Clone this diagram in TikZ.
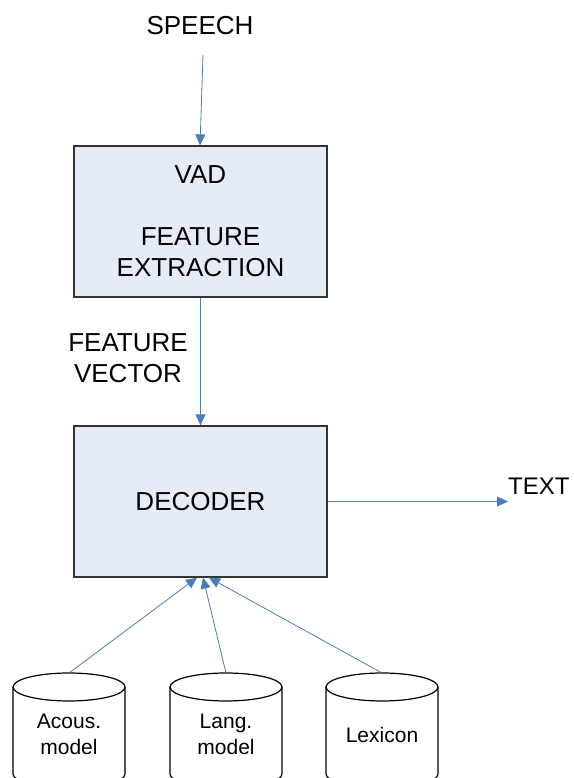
\documentclass[tikz,border=0pt]{standalone}
\usepackage{fontspec}
\setmainfont{Liberation Sans}
\usetikzlibrary{arrows.meta}
\definecolor{linkblue}{RGB}{74,126,187}
\definecolor{boxfill}{RGB}{230,236,247}

\begin{document}
\begin{tikzpicture}[x=1pt,y=1pt,
  block/.style={draw=black!80,line width=1.2pt,fill=boxfill,minimum width=253pt,minimum height=151pt,inner sep=0pt,align=center,font=\fontsize{26}{31}\selectfont},
  lbl/.style={inner sep=0pt,align=center,font=\fontsize{26}{31}\selectfont},
  dblbl/.style={inner sep=0pt,align=center,font=\fontsize{21}{26}\selectfont},
  flow/.style={linkblue,line width=0.8pt,-{Triangle[length=11pt,width=10pt]}},
  db/.style={draw=black,line width=1.2pt,fill=white}]
\useasboundingbox (0,0) rectangle (573,778);

% Blocks
\node[block] (vad) at (200.5,556.5) {VAD\\[31pt]FEATURE\\EXTRACTION};
\node[block] (decoder) at (200.5,276.5) {DECODER};

% Labels
\node[lbl,anchor=base] (speech) at (200,743) {SPEECH};
\node[lbl] (fvec) at (128,419.5) {FEATURE\\VECTOR};
\node[lbl,anchor=base west,font=\fontsize{24}{29}\selectfont] (text) at (508,283) {TEXT};
\coordinate (speechout) at (203,723);

% Knowledge bases
\foreach \cx in {69,226,382} {
  \draw[db] (\cx-56,91) -- (\cx-56,4) arc (180:360:56 and 14) -- (\cx+56,91);
  \draw[db] (\cx,91) ellipse (56 and 14);
}
\node[dblbl] (acous) at (69,44) {Acous.\\model};
\node[dblbl] (lang) at (226,44) {Lang.\\model};
\node[dblbl] (lexicon) at (382,43.5) {Lexicon};
\coordinate (acoustop) at (69,105);
\coordinate (langtop) at (226,105);
\coordinate (lexicontop) at (382,105);

% Signal flow
\draw[flow] (speechout) -- ([xshift=-0.5pt]vad.north);
\draw[flow] (vad.south) -- (decoder.north);
\draw[flow] (decoder.east) -- (decoder.east -| text.west);
\draw[flow] (acoustop) -- ([xshift=-3.5pt]decoder.south);
\draw[flow] (langtop) -- ([xshift=2.5pt]decoder.south);
\draw[flow] (lexicontop) -- ([xshift=8.5pt]decoder.south);
\end{tikzpicture}
\end{document}
